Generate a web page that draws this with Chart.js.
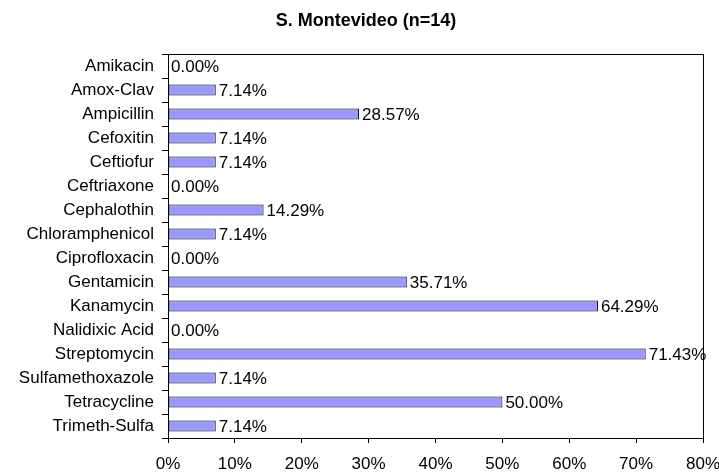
<!DOCTYPE html>
<html>
<head>
<meta charset="utf-8">
<script src="https://cdn.jsdelivr.net/npm/chart.js@4/dist/chart.umd.min.js"></script>
<style>
  html, body { margin: 0; padding: 0; background: #fff; }
  #wrap { width: 719px; height: 472px; }
</style>
</head>
<body>
<div id="wrap"><canvas id="c1"></canvas></div>
<script>
    'use strict'

    var chartTitle = "S. Montevideo (n=14)";
    var drugs = ["Amikacin", "Amox-Clav", "Ampicillin", "Cefoxitin", "Ceftiofur", "Ceftriaxone",
        "Cephalothin", "Chloramphenicol", "Ciprofloxacin", "Gentamicin", "Kanamycin",
        "Nalidixic Acid", "Streptomycin", "Sulfamethoxazole", "Tetracycline", "Trimeth-Sulfa"];
    var resistPct = [0.00, 7.14, 28.57, 7.14, 7.14, 0.00, 14.29, 7.14, 0.00, 35.71, 64.29,
        0.00, 71.43, 7.14, 50.00, 7.14];
    var xTicks = [0, 10, 20, 30, 40, 50, 60, 70, 80];

    var FONT = "'Liberation Sans', Arial, sans-serif";

    // box round the plot area + title
    var frame = {
        id: 'frame',
        afterDraw: function (chart) {
            var a = chart.chartArea, ctx = chart.ctx;
            ctx.save();
            ctx.strokeStyle = '#000';
            ctx.lineWidth = 1;
            ctx.strokeRect(Math.round(a.left) + 0.5, Math.round(a.top) + 0.5,
                Math.round(a.right - a.left), Math.round(a.bottom - a.top));
            ctx.fillStyle = '#000';
            ctx.font = 'bold 18px ' + FONT;
            ctx.textAlign = 'center';
            ctx.textBaseline = 'middle';
            ctx.fillText(chartTitle, 366, 21);
            ctx.restore();
        }
    };

    // value labels at the end of each bar
    var valueLabels = {
        id: 'valueLabels',
        afterDatasetsDraw: function (chart) {
            var ctx = chart.ctx;
            ctx.save();
            ctx.font = '17px ' + FONT;
            ctx.fillStyle = '#000';
            ctx.textAlign = 'left';
            ctx.textBaseline = 'middle';
            chart.getDatasetMeta(0).data.forEach(function (bar, i) {
                ctx.fillText(resistPct[i].toFixed(2) + '%', bar.x + 3, bar.y + 1);
            });
            ctx.restore();
        }
    };

    var ctx = document.getElementById('c1').getContext('2d');
    var chart = new Chart(ctx, {
        type: 'bar',
        data: {
            labels: drugs,
            datasets: [{
                data: resistPct,
                backgroundColor: '#9999FF',
                borderColor: '#000',
                borderWidth: 1,
                borderSkipped: false,
                categoryPercentage: 1,
                barPercentage: 0.46
            }]
        },
        options: {
            indexAxis: 'y',
            responsive: true,
            maintainAspectRatio: false,
            animation: false,
            layout: { autoPadding: false, padding: { left: 0, right: 16, top: 54, bottom: 0 } },
            plugins: {
                legend: { display: false },
                tooltip: { enabled: false },
                title: { display: false }
            },
            scales: {
                x: {
                    min: 0,
                    max: 80,
                    afterBuildTicks: function (axis) {
                        axis.ticks = xTicks.map(function (v) { return { value: v }; });
                    },
                    afterFit: function (axis) {
                        axis.height = 34;
                        axis.paddingLeft = 0;
                        axis.paddingRight = 0;
                    },
                    border: { display: true, color: '#000', width: 1 },
                    grid: { drawOnChartArea: false, drawTicks: true, tickLength: 5, color: '#000' },
                    ticks: {
                        color: '#000',
                        font: { family: FONT, size: 17 },
                        padding: 11,
                        maxRotation: 0,
                        callback: function (v) { return v + '%'; }
                    }
                },
                y: {
                    afterFit: function (axis) {
                        axis.width = 168;
                        axis.paddingTop = 0;
                        axis.paddingBottom = 0;
                    },
                    border: { display: true, color: '#000', width: 1 },
                    grid: { offset: true, drawOnChartArea: false, drawTicks: true, tickLength: 6, color: '#000' },
                    ticks: {
                        color: '#000',
                        font: { family: FONT, size: 17 },
                        padding: 8,
                        autoSkip: false
                    }
                }
            }
        },
        plugins: [frame, valueLabels]
    });
</script>
</body>
</html>
